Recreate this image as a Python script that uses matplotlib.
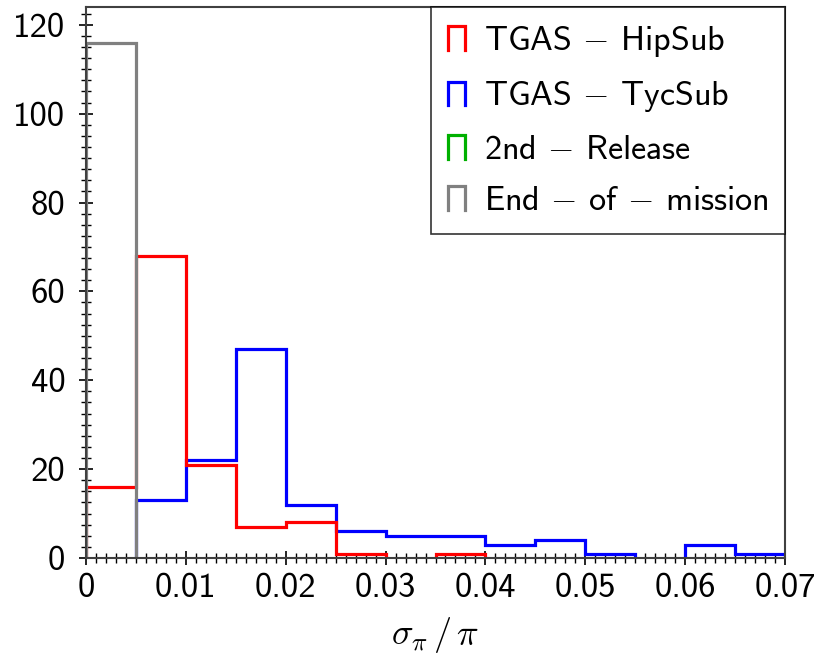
"""Step histogram of sigma_pi / pi for the Gaia subsamples."""

import numpy as np
import matplotlib

matplotlib.use("Agg")
import matplotlib.pyplot as plt
from matplotlib.legend_handler import HandlerBase
from matplotlib.lines import Line2D
from matplotlib.ticker import MultipleLocator


# bin edges: 0 .. 0.07 in steps of 0.005 (14 bins)
bin_edges = [0.000, 0.005, 0.010, 0.015, 0.020, 0.025, 0.030, 0.035,
             0.040, 0.045, 0.050, 0.055, 0.060, 0.065, 0.070]

hip_counts = [16, 68, 21, 7, 8, 1, 0, 1, 0, 0, 0, 0, 0, 0]
tyc_counts = [0, 13, 22, 47, 12, 6, 5, 5, 3, 4, 1, 0, 3, 1]
dr2_counts = [0, 0, 0, 0, 0, 0, 0, 0, 0, 0, 0, 0, 0, 0]
eom_counts = [116, 0, 0, 0, 0, 0, 0, 0, 0, 0, 0, 0, 0, 0]

series_labels = ["TGAS $-$ HipSub", "TGAS $-$ TycSub",
                 "2nd $-$ Release", "End $-$ of $-$ mission"]
series_colors = ["#ff0000", "#0000ff", "#00b000", "#808080"]

x_ticks = [0, 0.01, 0.02, 0.03, 0.04, 0.05, 0.06, 0.07]
x_tick_labels = ["0", "0.01", "0.02", "0.03", "0.04", "0.05", "0.06", "0.07"]
y_ticks = [0, 20, 40, 60, 80, 100, 120]

plt.rcParams["font.family"] = "cmss10"
plt.rcParams["mathtext.fontset"] = "cm"
plt.rcParams["axes.unicode_minus"] = False

LW = 2.3


class CapHandler(HandlerBase):
    """Legend key drawn as an open-bottom bin outline."""

    def create_artists(self, legend, orig_handle, xdescent, ydescent,
                       width, height, fontsize, trans):
        x0, y0 = -xdescent, -ydescent
        line = Line2D([x0, x0, x0 + width, x0 + width],
                      [y0, y0 + height, y0 + height, y0],
                      color=orig_handle.get_color(), lw=LW,
                      solid_joinstyle="miter", transform=trans)
        return [line]


fig = plt.figure(figsize=(8.21, 6.55), dpi=100)
ax = fig.add_axes([86 / 821, 1 - 558 / 655, (785 - 86) / 821, (558 - 7) / 655])

all_counts = [hip_counts, tyc_counts, dr2_counts, eom_counts]
handles = []
for counts, color, z in zip(all_counts, series_colors, [3, 2, 2, 4]):
    vals = np.array(counts, dtype=float)
    vals[vals == 0] = np.nan   # empty bins are not drawn
    if np.isfinite(vals).any():
        ax.stairs(vals, bin_edges, baseline=0, color=color, lw=LW, zorder=z)
    handles.append(Line2D([], [], color=color, lw=LW))

ax.set_xlim(0, 0.07)
ax.set_ylim(0, 124)
ax.set_xticks(x_ticks)
ax.set_xticklabels(x_tick_labels)
ax.set_yticks(y_ticks)
ax.xaxis.set_minor_locator(MultipleLocator(0.001))
ax.yaxis.set_minor_locator(MultipleLocator(2.5))
ax.tick_params(which="major", direction="inout", length=10, width=1.2,
               labelsize=25, colors="black")
ax.tick_params(which="minor", direction="inout", length=7, width=1.0)
ax.tick_params(axis="x", pad=6)
ax.tick_params(axis="y", pad=10)
for sp in ax.spines.values():
    sp.set_color("#404040")
    sp.set_linewidth(1.5)
    sp.set_zorder(6)

ax.set_xlabel(r"$\sigma_\pi\,/\,\pi$", fontsize=26, labelpad=8)

leg = ax.legend(handles, series_labels, loc="upper right", fontsize=24.5,
                frameon=True, fancybox=False, borderaxespad=0,
                handlelength=0.5, handleheight=0.7, handletextpad=0.55,
                borderpad=0.5, labelspacing=0.6,
                handler_map={Line2D: CapHandler()})
leg.get_frame().set_edgecolor("black")
leg.get_frame().set_linewidth(1.2)
leg.set_zorder(7)

fig.savefig("out.png", dpi=100)
